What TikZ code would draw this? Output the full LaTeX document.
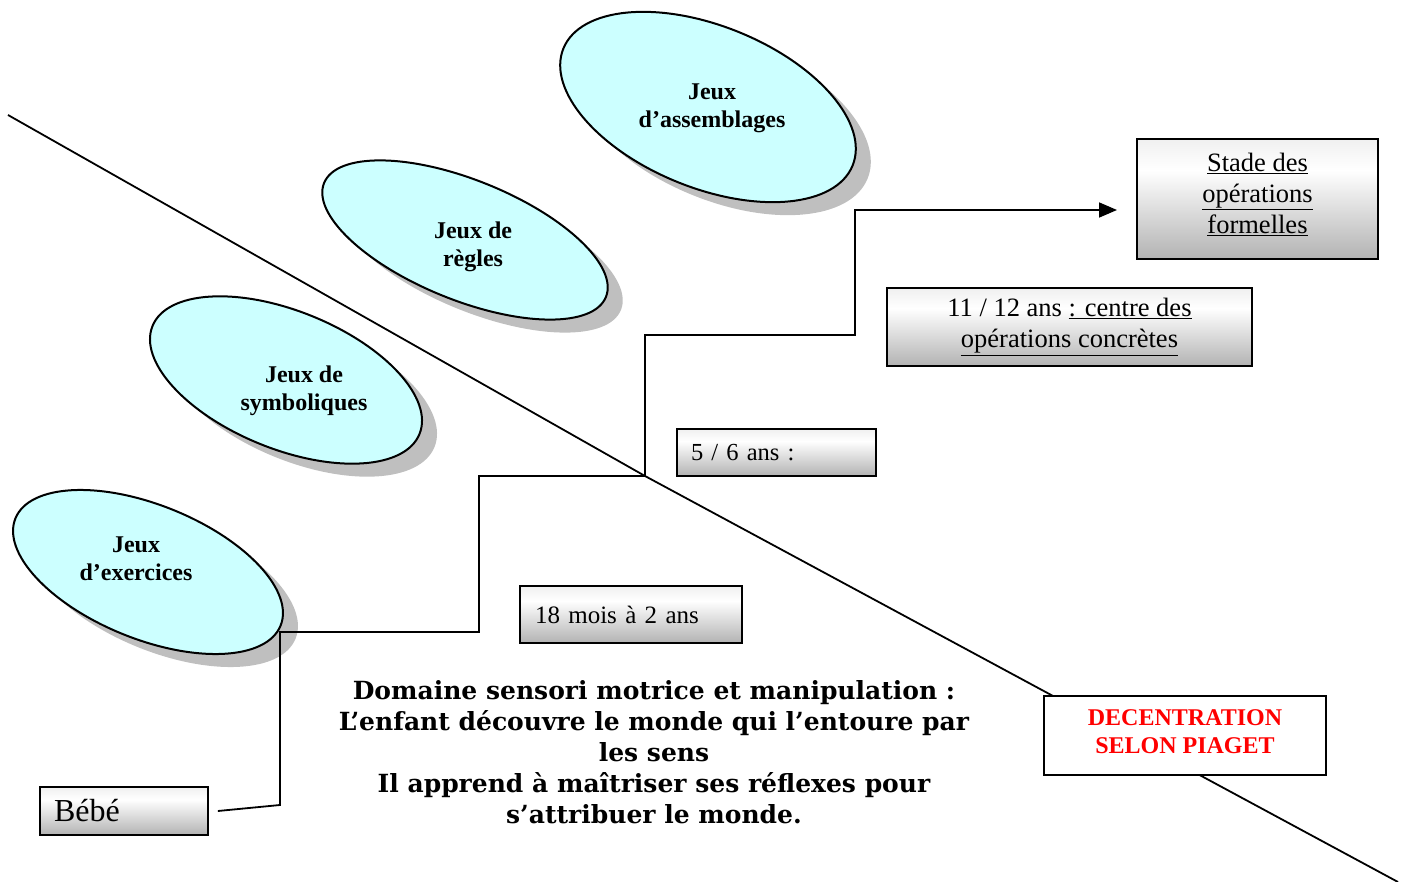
\documentclass[tikz,border=0pt]{standalone}
\usepackage{fontspec}
\setmainfont{Liberation Serif}
\newfontfamily\bookfont{DejaVu Serif}
\usetikzlibrary{shapes.geometric,arrows.meta}
\definecolor{cyanpale}{HTML}{CCFFFF}
\definecolor{ombregris}{HTML}{BFBFBF}
\pgfdeclareverticalshading{degrade}{100bp}{color(0bp)=(gray!60); color(25bp)=(gray!60); color(62bp)=(white); color(75bp)=(gray!12); color(100bp)=(gray!12)}

\begin{document}
\begin{tikzpicture}[x=1pt,y=-1pt,line width=1.8pt,
	jeu/.style={ellipse, draw, line width=2pt, fill=cyanpale, inner sep=0pt, rotate=-22},
	ombre/.style={ellipse, fill=ombregris, inner sep=0pt, rotate=-22},
	titre/.style={align=center, font=\fontsize{24}{28}\selectfont\bfseries},
	caisse/.style={rectangle, draw, shading=degrade, inner sep=0pt, font=\fontsize{26.5}{31}\selectfont}]
	\useasboundingbox (0,0) rectangle (1405,882);

	% la diagonale
	\coordinate (D1) at (8,115);
	\coordinate (D2) at (645,476);
	\coordinate (D3) at (1398,882);
	\draw (D1) -- (D2) -- (D3);

	% les jeux
	\node (O1) at (163,585)	[ombre, minimum width=286pt, minimum height=134pt]	{};
	\node (O2) at (301,393)	[ombre, minimum width=288pt, minimum height=138pt]	{};
	\node (O3) at (480,253)	[ombre, minimum width=304pt, minimum height=120pt]	{};
	\node (O4) at (723,120)	[ombre, minimum width=312pt, minimum height=162pt]	{};
	\node (J1) at (148,572)	[jeu, minimum width=286pt, minimum height=134pt]	{};
	\node (J2) at (286,380)	[jeu, minimum width=288pt, minimum height=138pt]	{};
	\node (J3) at (465,240)	[jeu, minimum width=304pt, minimum height=120pt]	{};
	\node (J4) at (708,107)	[jeu, minimum width=312pt, minimum height=162pt]	{};
	\node (T1) at (136,559)	[titre]	{Jeux\\d’exercices};
	\node (T2) at (304,391)	[titre]	{Jeux de\\symboliques};
	\node (T3) at (473,247)	[titre]	{Jeux de\\règles};
	\node (T4) at (712,108)	[titre]	{Jeux\\d’assemblages};

	% les ages
	\node (bebe) at (124,811)	[caisse, minimum width=168pt, minimum height=48pt, text width=140pt, align=left, font=\fontsize{32}{34}\selectfont]	{Bébé};
	\node (mois) at (631,614.5)	[caisse, minimum width=222pt, minimum height=57pt, text width=192pt, align=left, font=\fontsize{25}{31}\selectfont]	{18 mois à 2 ans};
	\node (cinq) at (776.5,452.5)	[caisse, minimum width=199pt, minimum height=47pt, text width=171pt, align=left, font=\fontsize{24.5}{31}\selectfont]	{5 / 6 ans :};
	\node (onze) at (1069.5,327)	[caisse, minimum width=365pt, minimum height=78pt, align=center]	{11 / 12 ans \underline{: centre des}\\\underline{opérations concrètes}};
	\node (stade) at (1257.5,199)	[caisse, minimum width=241pt, minimum height=120pt]	{};
	\node (stadetxt) at (1257.5,194)	[align=center, font=\fontsize{26.5}{31}\selectfont]	{\underline{Stade des}\\\underline{opérations}\\\underline{formelles}};
	\node (decent) at (1185,735.5)	[rectangle, draw, fill=white, minimum width=282pt, minimum height=79pt]	{};
	\node (decenttxt) at (1185,732)	[align=center, text=red, font=\fontsize{24}{28}\selectfont\bfseries]	{DECENTRATION\\SELON PIAGET};

	\node (domaine) at (654,752)	[align=center, font=\bookfont\fontsize{25}{31}\selectfont\bfseries]	{Domaine sensori motrice et manipulation :\\L’enfant découvre le monde qui l’entoure par\\les sens\\Il apprend à maîtriser ses réflexes pour\\s’attribuer le monde.};

	% l'escalier
	\coordinate (C1) at (280,805);
	\coordinate (C2) at (479,632);
	\coordinate (C4) at (855,335);
	\coordinate (fleche) at (1117,210);
	\draw [-{Triangle[length=18pt,width=15pt]}] ([xshift=9pt]bebe.east) -- (C1) |- (C2) |- (D2) |- (C4) |- (fleche);
\end{tikzpicture}
\end{document}
